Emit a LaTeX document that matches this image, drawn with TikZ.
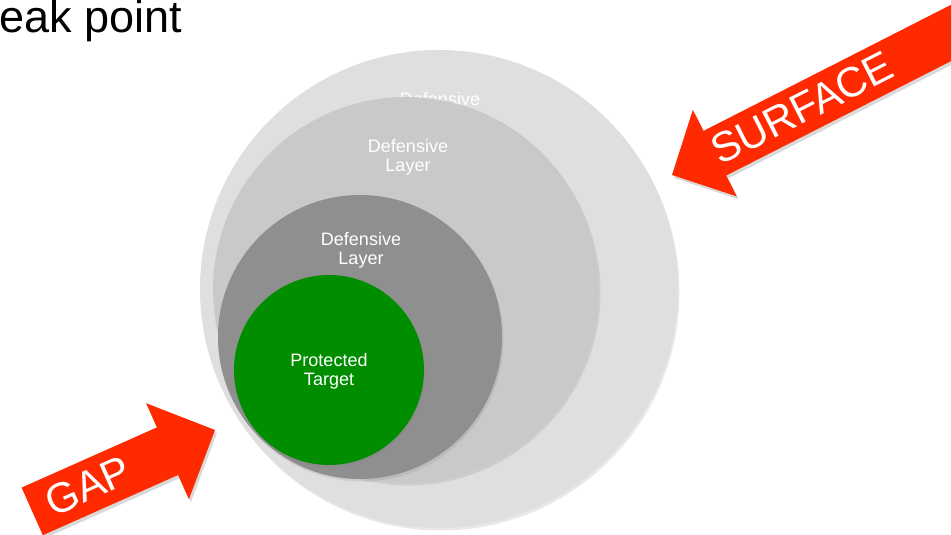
\documentclass[tikz,border=0pt]{standalone}
\usepackage{fontspec}
\setmainfont{Liberation Sans}
\usetikzlibrary{shadows}
\definecolor{ringA}{HTML}{DFDFDF}
\definecolor{ringB}{HTML}{C9C9C9}
\definecolor{ringC}{HTML}{8F8F8F}
\definecolor{targetgreen}{HTML}{008D00}
\definecolor{arrowred}{HTML}{FF2A00}
\def\surfacearrow{(672,360) -- (736.8,338.6) -- (726.2,359.5) -- (1082.6,540.8) -- (1060,585.7) -- (703.5,404.1) -- (692.8,425) -- cycle}
\def\gaparrow{(215,105) -- (146.1,131.8) -- (156.9,107.6) -- (21.6,47.4) -- (42.8,-0.2) -- (178.1,60) -- (188.9,35.8) -- cycle}
\begin{document}
\begin{tikzpicture}[x=1pt,y=1pt,
  ring/.style={circle, draw=none, inner sep=0pt, drop shadow={opacity=0.18, shadow xshift=1.5pt, shadow yshift=-2.5pt}},
  lbl/.style={text=white, font=\fontsize{18}{19}\selectfont, align=center, inner sep=0pt},
  arrowlbl/.style={text=white, font=\fontsize{42}{46}\selectfont, inner sep=0pt},
  arrowshadow/.style={fill=black, opacity=0.15}]
\useasboundingbox (0,0) rectangle (951,535);
\clip (0,0) rectangle (951,535);

% title fragment
\node[anchor=base west, inner sep=0pt, font=\fontsize{45}{50}\selectfont] (title) at (-1,502) {eak point};

% rings
\node[ring, fill=ringA, minimum size=478pt] (outer) at (439,246) {};
\node[lbl, anchor=base] (outerlbl) at (440,429) {Defensive};
\node[ring, fill=ringB, minimum size=386pt] (middle) at (406,245) {};
\node[lbl] (middlelbl) at (408,378) {Defensive\\Layer};
\node[ring, fill=ringC, minimum size=284pt] (inner) at (360,198) {};
\node[lbl] (innerlbl) at (361,285) {Defensive\\Layer};
\node[ring, fill=targetgreen, minimum size=190pt] (target) at (329,165) {};
\node[lbl] (targetlbl) at (329,164) {Protected\\Target};

% SURFACE arrow
\begin{scope}[shift={(2,-3)}]
  \fill[arrowshadow] \surfacearrow;
\end{scope}
\fill[arrowred] \surfacearrow;
\node[arrowlbl, rotate=27] (surface) at (802,427) {SURFACE};

% GAP arrow
\begin{scope}[shift={(2,-3)}]
  \fill[arrowshadow] \gaparrow;
\end{scope}
\fill[arrowred] \gaparrow;
\node[arrowlbl, rotate=24] (gap) at (88,49) {GAP};
\end{tikzpicture}
\end{document}
